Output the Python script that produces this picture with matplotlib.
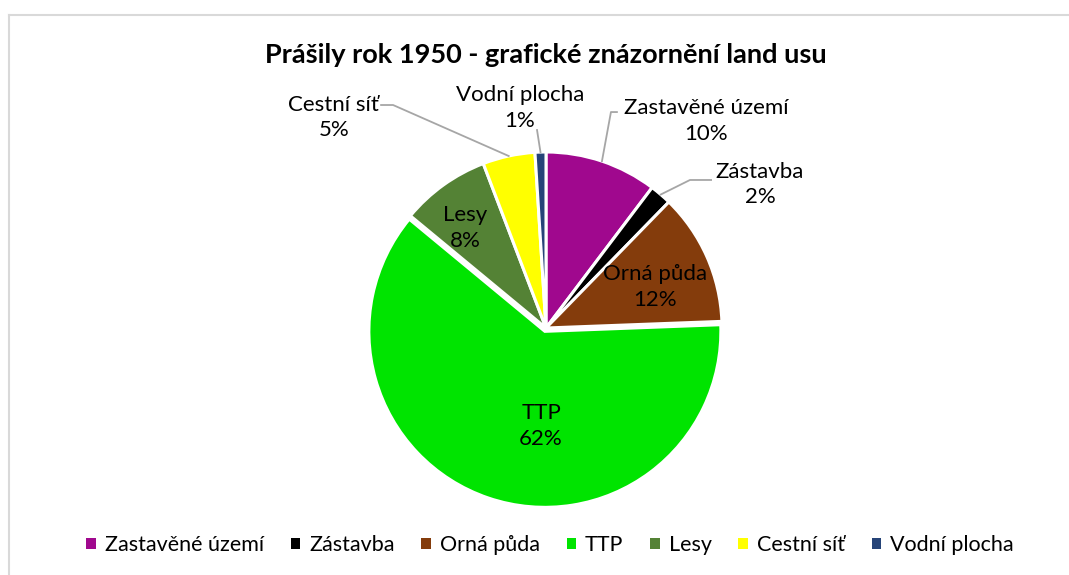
import matplotlib.pyplot as plt
from matplotlib.lines import Line2D
from matplotlib.patches import Patch
import numpy as np

plt.rcParams['font.family'] = ['Lato', 'DejaVu Sans']

categories = ['Zastavěné území', 'Zástavba', 'Orná půda', 'TTP', 'Lesy', 'Cestní síť', 'Vodní plocha']
values = [10.3, 2.0, 12.1, 61.6, 8.2, 4.8, 1.0]
colors = ['#A0088E', '#000000', '#843C0C', '#00E400', '#548235', '#FFFF00', '#264478']
title = 'Prášily rok 1950 - grafické znázornění land usu'

# label positions in pie units (radius = 1)
label_pos = [(0.91, 1.175), (1.216, 0.815), (0.62, 0.233), (-0.028, -0.557),
             (-0.46, 0.568), (-1.205, 1.195), (-0.148, 1.25)]
# elbow of leader lines for outside labels
elbows = {0: [(0.403, 1.227), (0.369, 1.227)],
          1: [(0.938, 0.841), (0.818, 0.841)],
          5: [(-0.937, 1.267), (-0.869, 1.267)],
          6: [(-0.051, 1.125)]}

W, H = 1069, 575
cx, cy, R = 546, 328, 176
fig = plt.figure(figsize=(W / 100, H / 100), dpi=100)
ax = fig.add_axes([0, 0, 1, 1])

explode = [0, 0, 0, 0.02, 0, 0, 0]
wedges, _ = ax.pie(values, colors=colors, startangle=90, counterclock=False,
                   explode=explode, radius=1,
                   wedgeprops=dict(edgecolor='white', linewidth=2.2))
ax.set_xlim(-cx / R, (W - cx) / R)
ax.set_ylim((cy - H) / R, cy / R)
ax.axis('off')

total = sum(values)
cum = np.cumsum([0] + values[:-1])
for i, (name, v) in enumerate(zip(categories, values)):
    x, y = label_pos[i]
    ax.text(x, y, f'{name}\n{v / total * 100:.0f}%', ha='center', va='center',
            fontsize=16, linespacing=1.35, color='black')
    if i in elbows:
        mid = np.deg2rad(90 - (cum[i] + v / 2) / total * 360)
        pts = elbows[i] + [(np.cos(mid), np.sin(mid))]
        xs, ys = zip(*pts)
        ax.plot(xs, ys, color='#A6A6A6', lw=1.3)

fig.text(cx / W, 1 - 55 / H, title, ha='center', va='center',
         fontsize=19.5, fontweight='bold')

handles = [Patch(facecolor=c, edgecolor='none') for c in colors]
fig.legend(handles, categories, loc='center', bbox_to_anchor=(550 / W, 1 - 545 / H),
           ncol=7, frameon=False, fontsize=15.5, handlelength=0.45, handleheight=0.45,
           handletextpad=0.4, columnspacing=1.25)

# chart border (top and left visible)
fig.add_artist(Line2D([8.5 / W, 8.5 / W], [0, 1 - 14.5 / H], color='#D9D9D9', lw=1.5))
fig.add_artist(Line2D([8.5 / W, 1], [1 - 14.5 / H, 1 - 14.5 / H], color='#D9D9D9', lw=1.5))

fig.savefig('out.png', dpi=100)
